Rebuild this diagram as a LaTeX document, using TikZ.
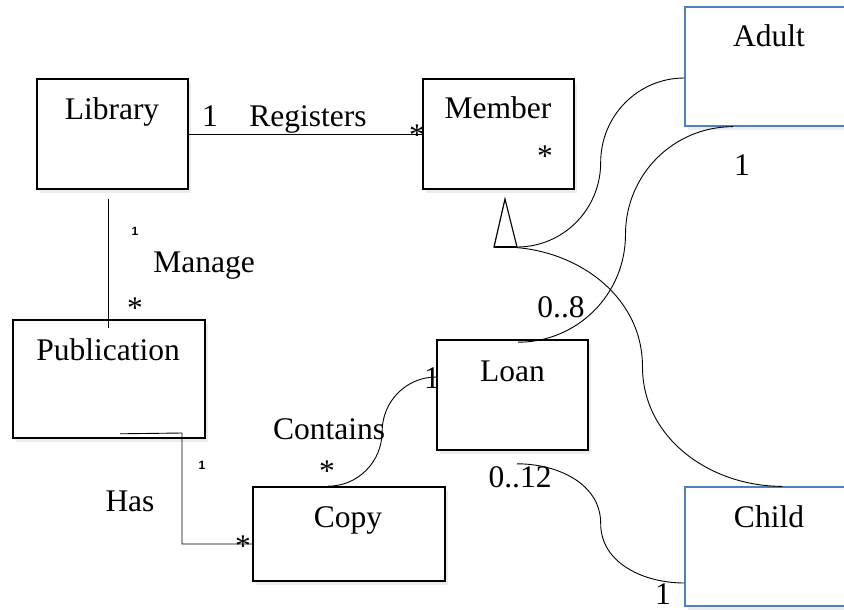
\documentclass[tikz,border=0pt]{standalone}
\usepackage{fontspec}
\setmainfont{Liberation Serif}
\setsansfont{Liberation Sans}
\usetikzlibrary{shadows,calc}
\definecolor{boxblue}{HTML}{4F81BD}

\begin{document}
\begin{tikzpicture}[x=1pt, y=-1pt,
    box/.style={draw, line width=1.6pt, fill=white,
        drop shadow={opacity=0.15, shadow xshift=3pt, shadow yshift=-4pt}},
    subbox/.style={box, draw=boxblue, line width=1.3pt},
    txt/.style={anchor=base, inner sep=0pt, font=\fontsize{31.5}{36}\selectfont},
    tiny/.style={anchor=center, inner sep=0pt, font=\fontsize{12}{14}\sffamily\bfseries},
    link/.style={line width=0.9pt}]
    \useasboundingbox (0,0) rectangle (844,610);
    % 类框
    \node (lib) at (112.5,134) [box, minimum width=151pt, minimum height=110pt] {};
    \node (mem) at (498.5,134) [box, minimum width=151pt, minimum height=110pt] {};
    \node (adult) at (768.5,66.5) [subbox, minimum width=167pt, minimum height=119pt] {};
    \node (pub) at (109,379) [box, minimum width=192pt, minimum height=118pt] {};
    \node (loan) at (512.5,395) [box, minimum width=151pt, minimum height=110pt] {};
    \node (copy) at (349,534) [box, minimum width=192pt, minimum height=94pt] {};
    \node (child) at (768.5,546.5) [subbox, minimum width=167pt, minimum height=119pt] {};
    % 类名
    \node (libT) at (112,120) [txt] {Library};
    \node (memT) at (498,118) [txt] {Member};
    \node (adultT) at (769,47) [txt] {Adult};
    \node (pubT) at (108,360) [txt] {Publication};
    \node (loanT) at (512.5,381) [txt] {Loan};
    \node (copyT) at (348,527) [txt] {Copy};
    \node (childT) at (769,527) [txt] {Child};
    % 关联
    \draw[link] (lib.east) -- (mem.west);
    \draw[link] ([xshift=-4.5pt,yshift=-9pt]lib.south) -- ([xshift=-1pt,yshift=-9pt]pub.north);
    \coordinate (hasBend) at (182,433);
    \draw[link] ([xshift=11pt,yshift=5pt]pub.south) -- (hasBend) |- ([yshift=-10pt]copy.west);
    \coordinate (conA) at ([xshift=-21pt]copy.north);
    \coordinate (conB) at ([yshift=18pt]loan.west);
    \draw[link] (conA) to[out=0,in=-90] ($(conA)!0.5!(conB)$) to[out=90,in=180] (conB);
    % 泛化三角形
    \coordinate (genL) at (494,247);
    \coordinate (genR) at (517,247);
    \coordinate (genM) at (503,247);
    \coordinate (genTop) at (505,199);
    \coordinate (adA) at ([yshift=-11.5pt]adult.west);
    \coordinate (chA) at ([xshift=13.5pt]child.north);
    \draw[link] (adA) to[out=180,in=90] ($(adA)!0.5!(genR)$) to[out=-90,in=0] (genR);
    \draw[link] (genM) to[out=0,in=90] ($(genM)!0.5!(chA)$) to[out=-90,in=180] (chA);
    \draw[line width=1.2pt, fill=white] (genL) -- (genTop) -- (genR) -- cycle;
    \draw[line width=2.4pt] (genL) -- (genR);
    % 借阅
    \coordinate (adB) at ([xshift=-35.5pt]adult.south);
    \coordinate (loanA) at ([xshift=5.5pt,yshift=-3pt]loan.north);
    \coordinate (loanB) at ([xshift=4.5pt,yshift=-13pt]loan.south);
    \coordinate (chB) at ([yshift=-36.5pt]child.west);
    \draw[link] (adB) to[out=180,in=90] ($(adB)!0.5!(loanA)$) to[out=-90,in=0] (loanA);
    \draw[link] (loanB) to[out=0,in=90] ($(loanB)!0.5!(chB)$) to[out=-90,in=180] (chB);
    % 标签与重数
    \node (regOne) at (210,127) [txt] {1};
    \node (regT) at (308,127) [txt] {Registers};
    \node (regMany) at (417,145) [txt] {*};
    \node (memMany) at (545,166) [txt] {*};
    \node (adultOne) at (742,175) [txt] {1};
    \node (adultLoan) at (561,317) [txt] {0..8};
    \node (manOne) at (135,231) [tiny] {1};
    \node (manT) at (204,272) [txt] {Manage};
    \node (manMany) at (135,318) [txt] {*};
    \node (loanOne) at (432,388) [txt] {1};
    \node (conT) at (329,439) [txt] {Contains};
    \node (conMany) at (327,481) [txt] {*};
    \node (hasT) at (130,511) [txt] {Has};
    \node (hasOne) at (202,465) [tiny] {1};
    \node (hasMany) at (243,556) [txt] {*};
    \node (childLoan) at (520,487) [txt] {0..12};
    \node (childOne) at (663,604) [txt] {1};
\end{tikzpicture}
\end{document}
